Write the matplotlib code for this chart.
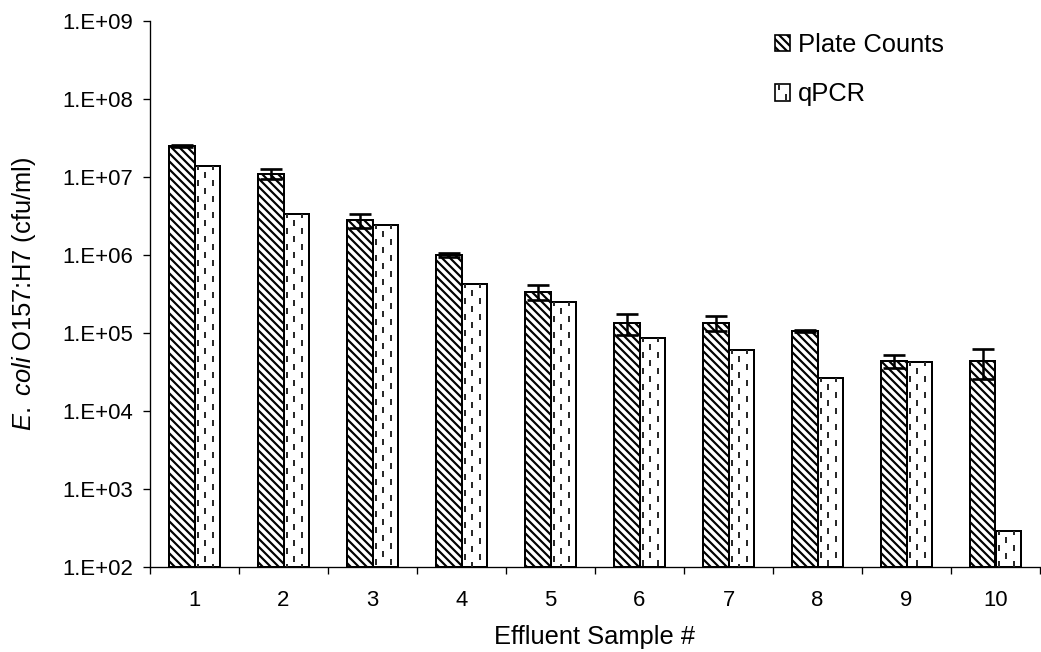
import numpy as np
import matplotlib
matplotlib.use("Agg")
import matplotlib.pyplot as plt
from matplotlib.ticker import NullLocator
from matplotlib.patches import Patch, Rectangle
from matplotlib.lines import Line2D
from matplotlib.legend_handler import HandlerPatch

# Effluent samples and E. coli O157:H7 concentrations (cfu/ml)
samples = ["1", "2", "3", "4", "5", "6", "7", "8", "9", "10"]
plate_counts = [2.5e7, 1.1e7, 2.8e6, 1.0e6, 3.4e5, 1.33e5, 1.35e5, 1.06e5, 4.4e4, 4.4e4]
plate_err = [0.7e6, 1.6e6, 0.55e6, 0.06e6, 0.75e5, 0.4e5, 0.29e5, 0.03e5, 0.8e4, 1.8e4]
qpcr = [1.38e7, 3.4e6, 2.4e6, 4.3e5, 2.52e5, 8.6e4, 6.05e4, 2.65e4, 4.3e4, 2.9e2]
ytick_values = [1e2, 1e3, 1e4, 1e5, 1e6, 1e7, 1e8, 1e9]
ytick_labels = ["1.E+02", "1.E+03", "1.E+04", "1.E+05", "1.E+06", "1.E+07", "1.E+08", "1.E+09"]

plt.rcParams["font.family"] = ["Liberation Sans", "DejaVu Sans"]
plt.rcParams["mathtext.fontset"] = "custom"
plt.rcParams["mathtext.rm"] = "Liberation Sans"
plt.rcParams["mathtext.it"] = "Liberation Sans:italic"
plt.rcParams["hatch.linewidth"] = 1.3
plt.rcParams["hatch.color"] = "black"

DPI = 120
W, H = 1041, 652
fig = plt.figure(figsize=(W / DPI, H / DPI), dpi=DPI)
ax = fig.add_axes([150 / W, 1 - 567 / H, 890 / W, (567 - 21) / H])

ymin, ymax = ytick_values[0], ytick_values[-1]
ax.set_yscale("log")
ax.set_ylim(ymin, ymax)
ax.set_xlim(-0.5, len(samples) - 0.5)

x = np.arange(len(samples))
w = 0.292
plate = np.array(plate_counts)
q = np.array(qpcr)
PLATE_HATCH = "\\" * 5
DASH_COLOR = "#2a2a2a"

plate_bars = ax.bar(x - w / 2, plate - ymin, w, bottom=ymin, color="white",
                    edgecolor="black", linewidth=1.2, hatch=PLATE_HATCH, zorder=2)
qpcr_bars = ax.bar(x + w / 2, q - ymin, w, bottom=ymin, color="white",
                   edgecolor="black", linewidth=1.2, zorder=2)

# dashed vertical fill pattern inside the qPCR bars
col_frac = (0.13, 0.40, 0.70)
for bar in qpcr_bars:
    x0, bw = bar.get_x(), bar.get_width()
    top = bar.get_y() + bar.get_height()
    for i, f in enumerate(col_frac):
        phase = 1.0 if i % 2 == 0 else 5.0
        ln, = ax.plot([x0 + f * bw, x0 + f * bw], [top, ymin], color=DASH_COLOR,
                      lw=1.2, linestyle=(phase, (3.0, 5.0)),
                      dash_capstyle="butt", zorder=3)
        ln.set_clip_path(bar)

ax.errorbar(x - w / 2, plate, yerr=plate_err, fmt="none", ecolor="black",
            elinewidth=1.5, capsize=6.5, capthick=1.6, zorder=5)

# axes styling
for s in ("top", "right"):
    ax.spines[s].set_visible(False)
for s in ("left", "bottom"):
    ax.spines[s].set_linewidth(0.8)

ax.set_yticks(ytick_values)
ax.set_yticklabels(ytick_labels)
ax.yaxis.set_minor_locator(NullLocator())
ax.tick_params(axis="y", which="major", direction="out", length=4.2, width=0.8,
               pad=6, labelsize=13.3)

ax.set_xticks(np.arange(-0.5, len(samples), 1.0))
ax.set_xticklabels([])
ax.set_xticks(x, minor=True)
ax.set_xticklabels(samples, minor=True)
ax.tick_params(axis="x", which="major", direction="out", length=4.2, width=0.8)
ax.tick_params(axis="x", which="minor", length=0, pad=14, labelsize=13.3)

ax.set_xlabel("Effluent Sample #", fontsize=15.3, labelpad=8)
ax.set_ylabel(r"$\mathit{E.}$ $\mathit{coli}$ O157:H7 (cfu/ml)", fontsize=15.3)
ax.yaxis.set_label_coords(-0.126, 0.5)


class DashedBoxHandler(HandlerPatch):
    """Legend key: white box with a short dashed column, like the qPCR bars."""

    def create_artists(self, legend, orig_handle, xdescent, ydescent,
                       width, height, fontsize, trans):
        box = Rectangle((-xdescent, -ydescent), width, height, facecolor="white",
                        edgecolor="black", lw=1.0, transform=trans)
        arts = [box]
        for fx, phase in ((0.25, 0.0), (0.72, 3.0)):
            ln = Line2D([-xdescent + fx * width] * 2,
                        [-ydescent + height, -ydescent], color=DASH_COLOR,
                        lw=1.2, linestyle=(phase, (3.0, 5.0)), transform=trans)
            arts.append(ln)
        return arts


handles = [Patch(facecolor="white", edgecolor="black", hatch=PLATE_HATCH, lw=1.0),
           Patch(facecolor="white", edgecolor="black", lw=1.0)]
fig.legend(handles, ["Plate Counts", "qPCR"], loc="upper left",
           bbox_to_anchor=(775 / W, 1 - 33 / H), frameon=False, fontsize=15.3,
           handlelength=0.6, handleheight=0.6, handletextpad=0.3,
           labelspacing=1.0, borderpad=0, borderaxespad=0,
           handler_map={handles[1]: DashedBoxHandler()})

fig.savefig("out.png", dpi=DPI)
